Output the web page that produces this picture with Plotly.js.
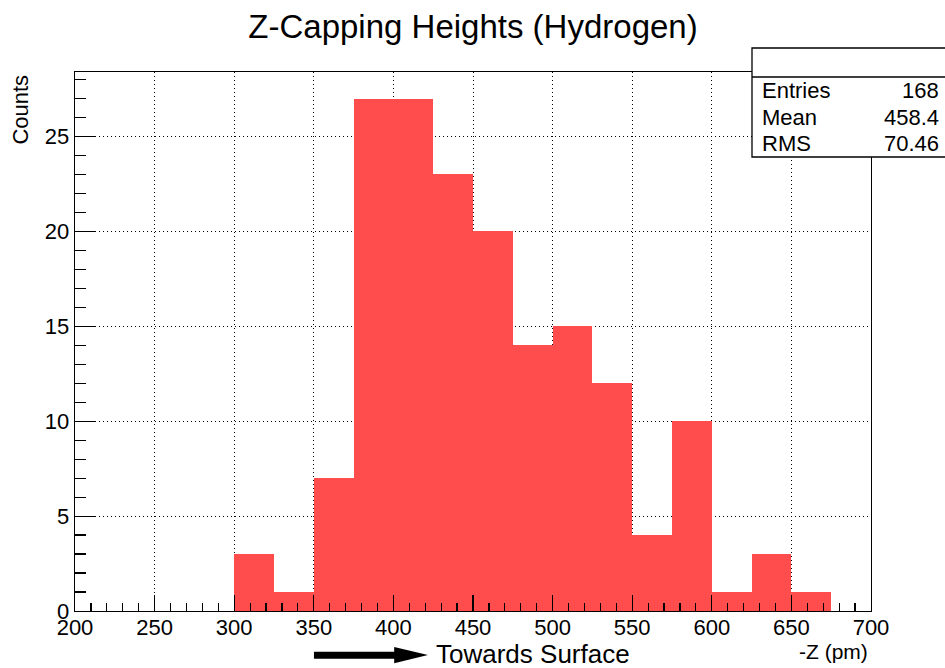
<!DOCTYPE html>
<html>
<head>
<meta charset="utf-8">
<script src="https://cdn.plot.ly/plotly-3.0.1.min.js"></script>
<style>html,body{margin:0;padding:0;background:#fff;}#chart{width:945px;height:668px;}</style>
</head>
<body>
<div id="chart"></div>
<script>
// Histogram data (bin width 25 pm)
var binLow = [300, 325, 350, 375, 400, 425, 450, 475, 500, 525, 550, 575, 600, 625, 650];
var counts = [3, 1, 7, 27, 27, 23, 20, 14, 15, 12, 4, 10, 1, 3, 1];
var binWidth = 25;
var statLabels = ["Entries", "Mean", "RMS"];
var statValues = ["168", "458.4", "70.46"];
var xTickVals = [200, 250, 300, 350, 400, 450, 500, 550, 600, 650, 700];
var yTickVals = [0, 5, 10, 15, 20, 25];

var centers = binLow.map(function (b) { return b + binWidth / 2; });
var FONT = "Liberation Sans, Arial, sans-serif";

var trace = {
  type: "bar",
  x: centers,
  y: counts,
  width: binWidth,
  marker: { color: "rgb(255,76,76)", line: { width: 0 } },
  hoverinfo: "x+y"
};

var annotations = [
  { text: "Counts", xref: "paper", yref: "paper", x: -0.068, y: 0.93, textangle: -90,
    showarrow: false, xanchor: "center", yanchor: "middle", font: { family: FONT, size: 22, color: "#000" } },
  { text: "-Z (pm)", xref: "paper", yref: "paper", x: 0.999, y: (611 - 651) / 539,
    showarrow: false, xanchor: "right", yanchor: "middle", font: { family: FONT, size: 21, color: "#000" } },
  { text: "Towards Surface", xref: "x", yref: "paper", x: 426, y: (611 - 654) / 539, borderpad: 0,
    showarrow: false, xanchor: "left", yanchor: "middle", font: { family: FONT, size: 26, color: "#000" } }
];
var rowY = [90, 117, 143];
for (var i = 0; i < statLabels.length; i++) {
  var py = (611 - rowY[i]) / 539;
  annotations.push({ text: statLabels[i], xref: "paper", yref: "paper", x: (760 - 75) / 796, y: py,
    showarrow: false, xanchor: "left", yanchor: "middle", font: { family: FONT, size: 22, color: "#000" } });
  annotations.push({ text: statValues[i], xref: "paper", yref: "paper", x: (941 - 75) / 796, y: py,
    showarrow: false, xanchor: "right", yanchor: "middle", font: { family: FONT, size: 22, color: "#000" } });
}

var shapes = [
  // stats box
  { type: "rect", xref: "paper", yref: "paper", x0: (752 - 75) / 796, x1: (950 - 75) / 796,
    y0: (611 - 157) / 539, y1: (611 - 48) / 539, fillcolor: "#fff", line: { color: "#000", width: 1.3 }, layer: "above" },
  { type: "line", xref: "paper", yref: "paper", x0: (752 - 75) / 796, x1: (950 - 75) / 796,
    y0: (611 - 77) / 539, y1: (611 - 77) / 539, line: { color: "#000", width: 1.3 }, layer: "above" },
  // arrow shaft
  { type: "rect", xref: "x", yref: "paper", x0: 350.1, x1: 402, y0: -0.0755, y1: -0.0885,
    fillcolor: "#000", line: { width: 0 } },
  // arrow head
  { type: "path", xref: "x", yref: "paper",
    path: "M 400.5 -0.0668 L 421.7 -0.0818 L 400.5 -0.0968 Z", fillcolor: "#000", line: { width: 0 } }
];

var layout = {
  width: 945, height: 668,
  margin: { l: 75, r: 74, t: 72, b: 57, pad: 0 },
  paper_bgcolor: "#fff", plot_bgcolor: "#fff",
  showlegend: false,
  bargap: 0,
  title: { text: "Z-Capping Heights (Hydrogen)", x: 0.5, xref: "paper", y: 0.96, yanchor: "middle",
    font: { family: FONT, size: 33, color: "#000" } },
  xaxis: {
    range: [200, 700], tickvals: xTickVals, ticktext: xTickVals.map(String),
    ticks: "inside", ticklen: 16, tickwidth: 1.2, tickcolor: "#000",
    minor: { dtick: 10, tick0: 200, ticks: "inside", ticklen: 8, tickwidth: 1.2, tickcolor: "#000", showgrid: false },
    showline: true, linecolor: "#000", linewidth: 1.3, mirror: true,
    showgrid: true, gridcolor: "#000", gridwidth: 1, griddash: "1px,3px",
    zeroline: false, tickfont: { family: FONT, size: 22, color: "#000" },
    ticklabelstandoff: -4
  },
  yaxis: {
    range: [0, 28.4], tickvals: yTickVals, ticktext: yTickVals.map(String),
    ticks: "inside", ticklen: 21, tickwidth: 1.2, tickcolor: "#000",
    minor: { dtick: 1, tick0: 0, ticks: "inside", ticklen: 11, tickwidth: 1.2, tickcolor: "#000", showgrid: false },
    showline: true, linecolor: "#000", linewidth: 1.3, mirror: true,
    showgrid: true, gridcolor: "#000", gridwidth: 1, griddash: "1px,3px",
    zeroline: false, tickfont: { family: FONT, size: 22, color: "#000" }
  },
  annotations: annotations,
  shapes: shapes
};

Plotly.newPlot("chart", [trace], layout, { displayModeBar: false, staticPlot: true });
</script>
</body>
</html>
